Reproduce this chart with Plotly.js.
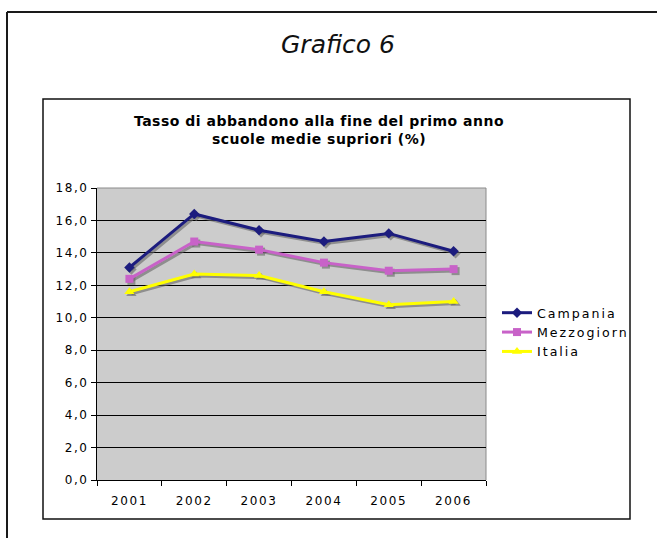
<!DOCTYPE html>
<html><head><meta charset="utf-8">
<script src="https://cdn.plot.ly/plotly-3.0.1.min.js"></script>
<style>
html,body{margin:0;padding:0;background:#fff;}
#chart{width:657px;height:538px;}
.x3tick text,.y3tick text{letter-spacing:1.6px;}
.legendtext{letter-spacing:2px;}
.gtitle{letter-spacing:0.5px;}
</style></head><body><div id="chart"></div>
<script>
// ---- data ----
const years = ['2001','2002','2003','2004','2005','2006'];
const campania = [13.1, 16.4, 15.4, 14.7, 15.2, 14.1];
const mezzogiorno = [12.4, 14.7, 14.2, 13.4, 12.9, 13.0];
const italia = [11.6, 12.7, 12.6, 11.6, 10.8, 11.0];
const seriesNames = ['Campania', 'Mezzogiorn', 'Italia'];
const yTickVals = [0, 2, 4, 6, 8, 10, 12, 14, 16, 18];
const gridVals = [2, 4, 6, 8, 10, 12, 14, 16];
const pageTitle = 'Grafico 6';
const chartTitle = 'Tasso di abbandono alla fine del primo anno<br>scuole medie supriori (%)';

// ---- layout helpers (pixel -> paper) ----
const W = 657, H = 538;
const px = v => v / W;
const py = v => (H - v) / H;
const PL = 97, PR = 486, PT = 188, PB = 480;   // plot area in pixels
const SH = 2;                                  // shadow offset in pixels

const colors = ['#1c1c7e', '#c862c8', '#ffff00'];
const symbols = ['diamond', 'square', 'triangle-up'];
const msizes = [8, 8, 9];
const seriesData = [campania, mezzogiorno, italia];

const traces = [];
// empty trace that only carries the gridline subplot (x/y)
traces.push({x: [], y: [], xaxis: 'x', yaxis: 'y', type: 'scatter', mode: 'lines',
             showlegend: false, hoverinfo: 'skip'});
// shadows (subplot x2y2, shifted)
seriesData.forEach((s, i) => {
  traces.push({
    x: years, y: s, xaxis: 'x2', yaxis: 'y2', type: 'scatter', mode: 'lines+markers',
    line: {color: 'rgba(100,100,100,0.6)', width: 3},
    marker: {symbol: symbols[i], size: msizes[i], color: 'rgba(100,100,100,0.6)'},
    showlegend: false, hoverinfo: 'skip'
  });
});
// main series (subplot x3y3)
seriesData.forEach((s, i) => {
  traces.push({
    x: years, y: s, xaxis: 'x3', yaxis: 'y3', type: 'scatter', mode: 'lines+markers',
    name: seriesNames[i],
    line: {color: colors[i], width: 3},
    marker: {symbol: symbols[i], size: msizes[i], color: colors[i]}
  });
});

const tickFont = {family: 'DejaVu Sans', size: 12, color: '#000'};
const dom = {x: [px(PL), px(PR)], y: [py(PB), py(PT)]};
const domS = {x: [px(PL + SH), px(PR + SH)], y: [py(PB + SH), py(PT + SH)]};

const layout = {
  width: W, height: H,
  margin: {l: 0, r: 0, t: 0, b: 0},
  paper_bgcolor: '#ffffff',
  plot_bgcolor: 'rgba(0,0,0,0)',
  separators: ',.',
  showlegend: true,
  title: {
    text: chartTitle,
    font: {family: 'DejaVu Sans', size: 14, color: '#000', weight: 'bold'},
    x: px(319), xanchor: 'center', xref: 'container',
    y: py(126), yanchor: 'middle', yref: 'container'
  },
  // grid subplot
  xaxis: {domain: dom.x, range: [0, 1], visible: false, anchor: 'y', fixedrange: true},
  yaxis: {domain: dom.y, range: [0, 18], anchor: 'x', tickmode: 'array', tickvals: gridVals,
          showgrid: true, gridcolor: '#000', gridwidth: 1, zeroline: false,
          showticklabels: false, ticks: '', showline: false, fixedrange: true},
  // shadow subplot
  xaxis2: {domain: domS.x, range: [-0.5, 5.5], type: 'category', visible: false, anchor: 'y2', fixedrange: true},
  yaxis2: {domain: domS.y, range: [0, 18], visible: false, anchor: 'x2', fixedrange: true},
  // main subplot
  xaxis3: {domain: dom.x, range: [-0.5, 5.5], type: 'category', anchor: 'y3',
           tickson: 'boundaries', ticks: 'outside', ticklen: 5, tickcolor: '#000', tickwidth: 1,
           ticklabelstandoff: 10,
           showline: true, linecolor: '#000', linewidth: 1, showgrid: false, zeroline: false,
           tickfont: tickFont, fixedrange: true},
  yaxis3: {domain: dom.y, range: [0, 18], anchor: 'x3', tickmode: 'array', tickvals: yTickVals,
           tickformat: '.1f', ticks: 'outside', ticklen: 5, tickcolor: '#000', tickwidth: 1,
           showline: true, linecolor: '#000', linewidth: 1, showgrid: false, zeroline: false,
           tickfont: tickFont, fixedrange: true},
  legend: {
    x: px(497), xanchor: 'left', y: py(298), yanchor: 'top',
    bgcolor: 'rgba(0,0,0,0)', borderwidth: 0,
    font: {family: 'DejaVu Sans', size: 12.6, color: '#000'},
    tracegroupgap: 0
  },
  annotations: [{
    text: pageTitle, xref: 'paper', yref: 'paper', x: px(338), y: py(44),
    xanchor: 'center', yanchor: 'middle', showarrow: false,
    font: {family: 'DejaVu Sans', size: 25, color: '#111', style: 'italic'}
  }],
  shapes: [
    // outer page frame (left + top)
    {type: 'line', xref: 'paper', yref: 'paper', x0: px(7), x1: px(7), y0: py(12), y1: py(540),
     line: {color: '#1a1a1a', width: 2}, layer: 'below'},
    {type: 'line', xref: 'paper', yref: 'paper', x0: px(7), x1: px(660), y0: py(12), y1: py(12),
     line: {color: '#1a1a1a', width: 2}, layer: 'below'},
    // chart area box
    {type: 'rect', xref: 'paper', yref: 'paper', x0: px(43), x1: px(630), y0: py(99), y1: py(519),
     line: {color: '#111', width: 1.5}, fillcolor: '#ffffff', layer: 'below'},
    // plot area background
    {type: 'rect', xref: 'paper', yref: 'paper', x0: px(PL), x1: px(PR), y0: py(PB), y1: py(PT),
     line: {width: 0}, fillcolor: '#cccccc', layer: 'below'},
    // plot border top + right (gray)
    {type: 'line', xref: 'paper', yref: 'paper', x0: px(PL), x1: px(PR), y0: py(PT), y1: py(PT),
     line: {color: '#8a8a8a', width: 1}, layer: 'below'},
    {type: 'line', xref: 'paper', yref: 'paper', x0: px(PR), x1: px(PR), y0: py(PT), y1: py(PB),
     line: {color: '#8a8a8a', width: 1}, layer: 'below'}
  ]
};

Plotly.newPlot('chart', traces, layout, {staticPlot: true, displayModeBar: false});
</script></body></html>
